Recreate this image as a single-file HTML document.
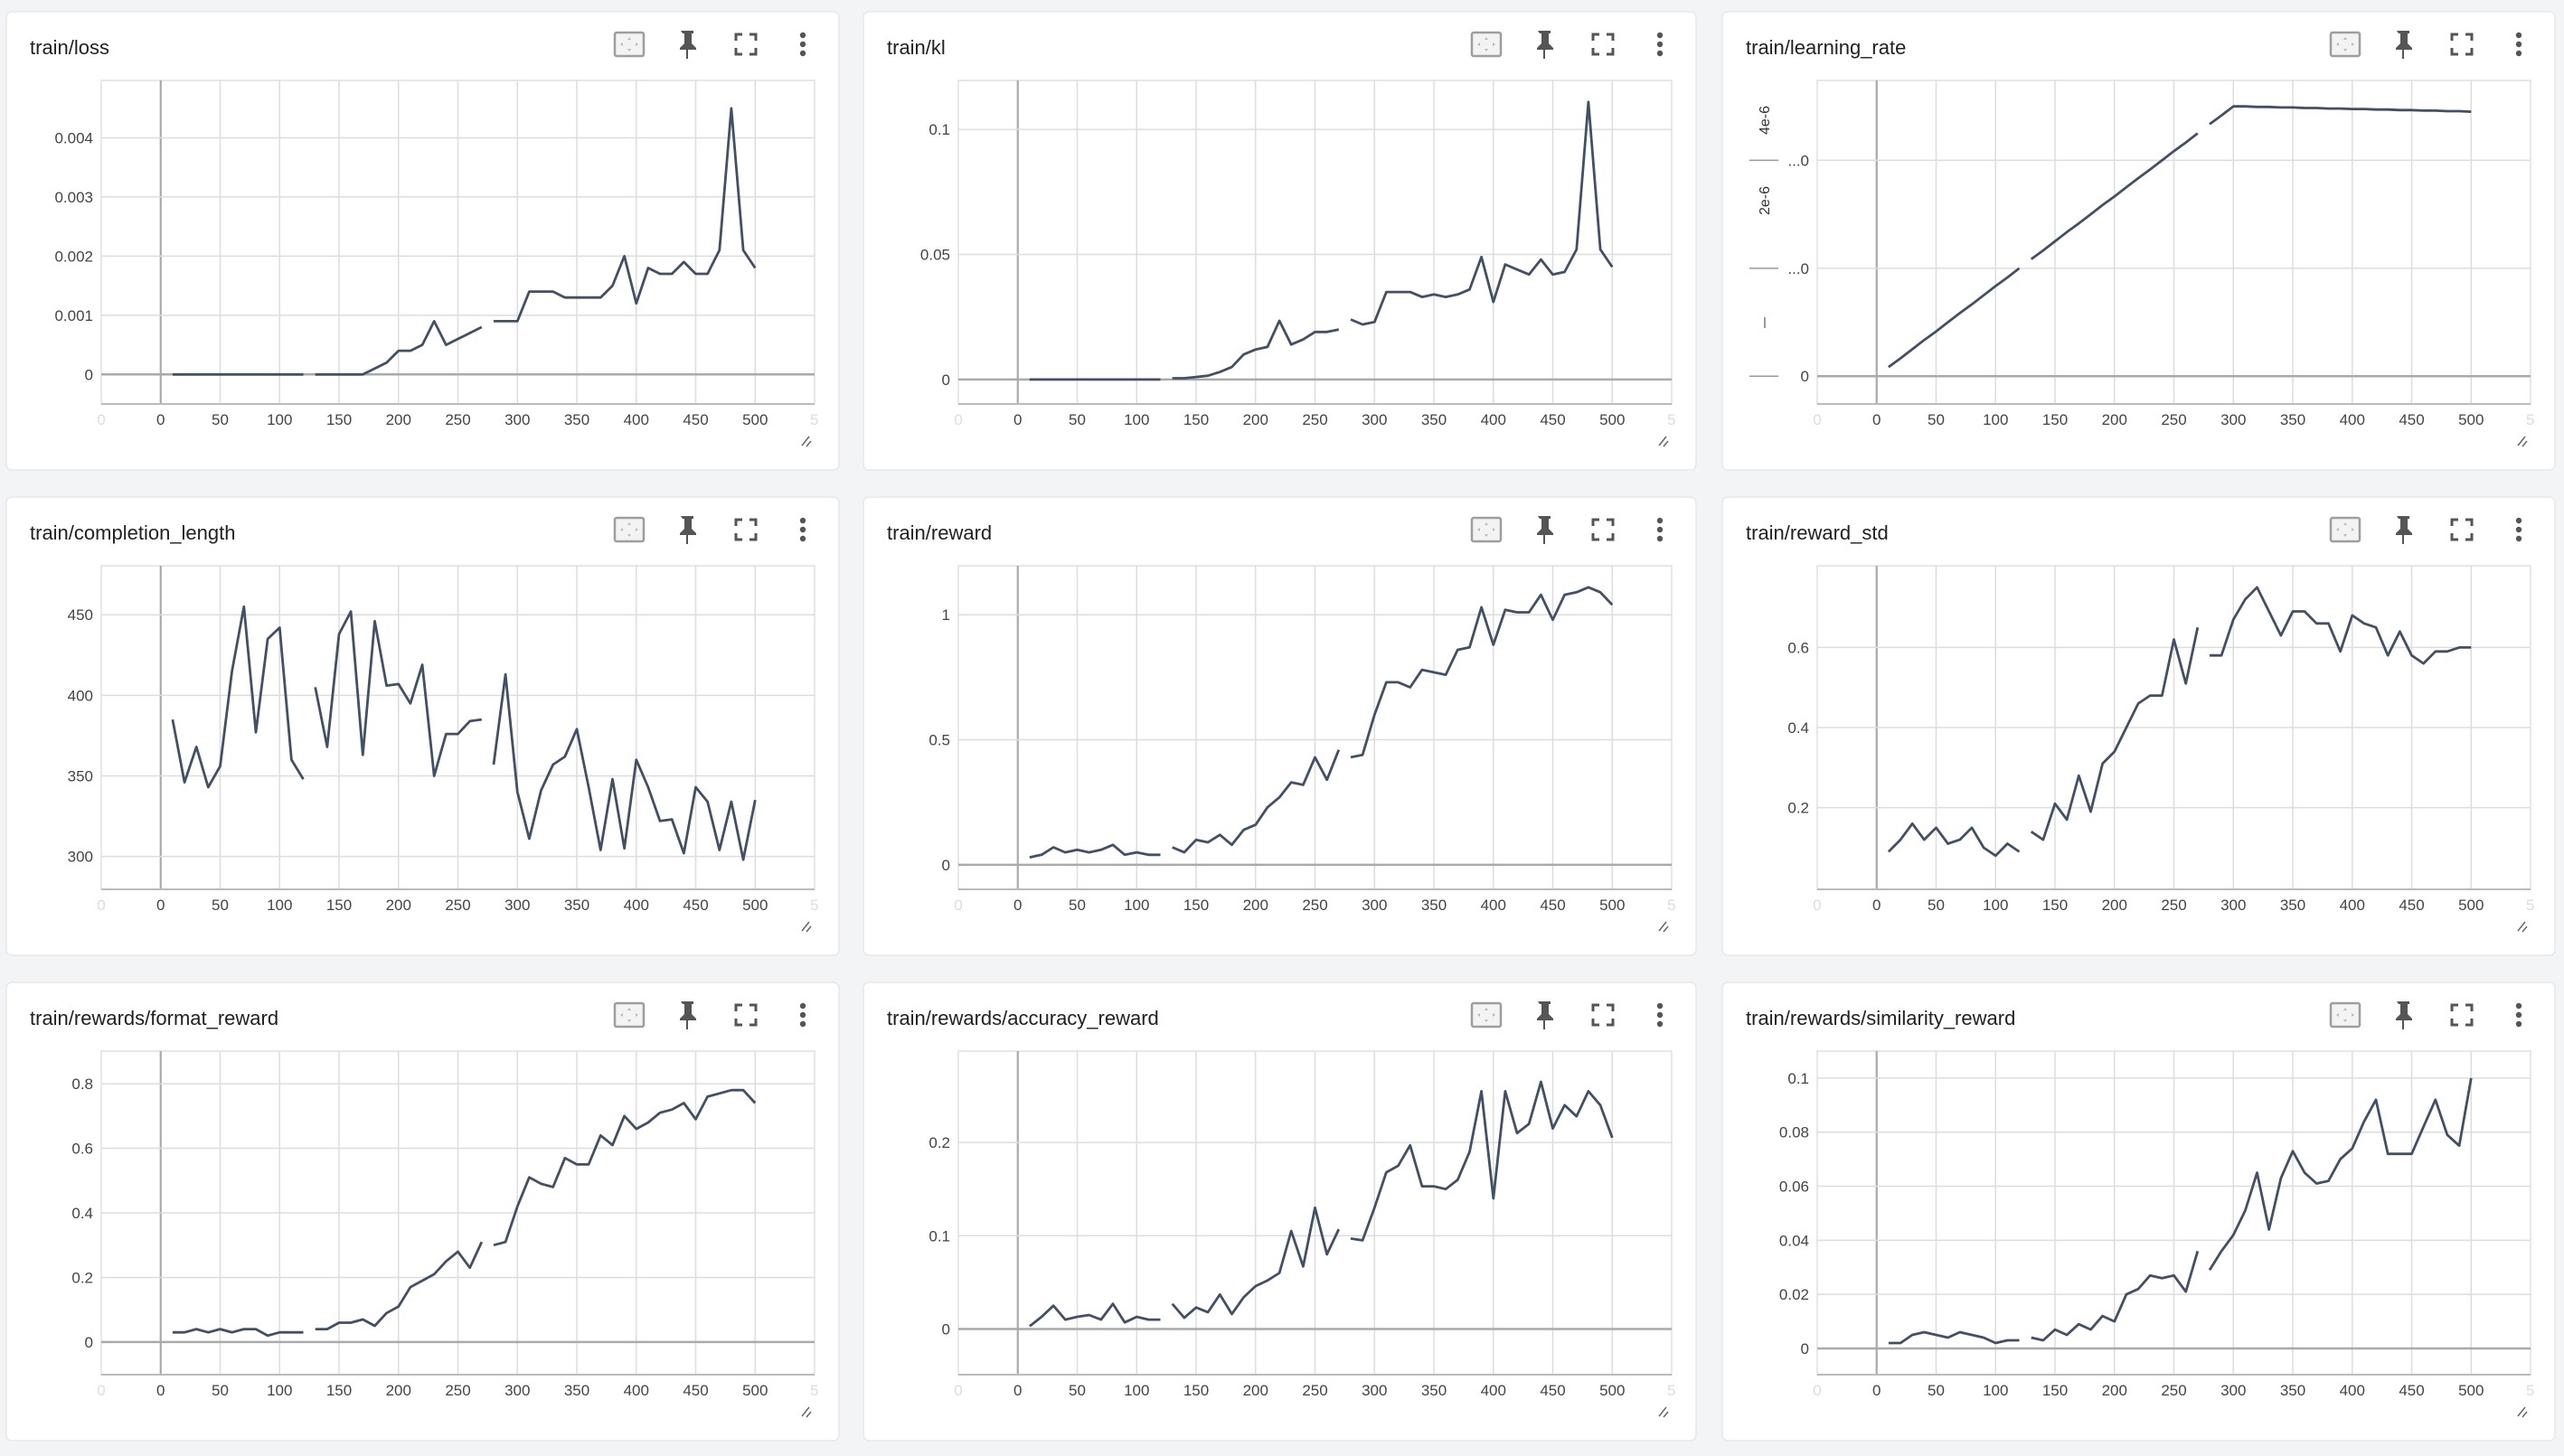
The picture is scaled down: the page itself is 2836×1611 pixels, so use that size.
<!DOCTYPE html>
<html><head><meta charset="utf-8">
<style>
html,body{margin:0;padding:0;background:#f3f4f6;}
body{width:2836px;height:1606px;overflow:hidden;font-family:"Liberation Sans",sans-serif;}
svg text{font-family:"Liberation Sans",sans-serif;}
</style></head>
<body>
<svg id="root" width="2836" height="1606" viewBox="0 0 2836 1606"></svg>
<script>
const steps=[10,20,30,40,50,60,70,80,90,100,110,120,130,140,150,160,170,180,190,200,210,220,230,240,250,260,270,280,290,300,310,320,330,340,350,360,370,380,390,400,410,420,430,440,450,460,470,480,490,500];
const breakAfter=[120,270];
const xTicks=[0,50,100,150,200,250,300,350,400,450,500];
const lossVals=[0,0,0,0,0,0,0,0,0,0,0,0,0,0,0,0,0,0.0001,0.0002,0.0004,0.0004,0.0005,0.0009,0.0005,0.0006,0.0007,0.0008,0.0009,0.0009,0.0009,0.0014,0.0014,0.0014,0.0013,0.0013,0.0013,0.0013,0.0015,0.0020,0.0012,0.0018,0.0017,0.0017,0.0019,0.0017,0.0017,0.0021,0.0045,0.0021,0.0018];
const lossTicks=[0,0.001,0.002,0.003,0.004];
const klVals=[0,0,0,0,0,0,0,0,0,0,0,0,0.0005,0.0005,0.001,0.0015,0.003,0.005,0.01,0.012,0.013,0.0235,0.014,0.016,0.019,0.019,0.02,0.024,0.022,0.023,0.035,0.035,0.035,0.033,0.034,0.033,0.034,0.036,0.049,0.031,0.046,0.044,0.042,0.048,0.042,0.043,0.052,0.111,0.052,0.045];
const klTicks=[0,0.05,0.1];
const lrVals=[1.7e-7,3.3e-7,5e-7,6.7e-7,8.3e-7,1e-6,1.17e-6,1.33e-6,1.5e-6,1.67e-6,1.83e-6,2e-6,2.17e-6,2.33e-6,2.5e-6,2.67e-6,2.83e-6,3e-6,3.17e-6,3.33e-6,3.5e-6,3.67e-6,3.83e-6,4e-6,4.17e-6,4.33e-6,4.5e-6,4.67e-6,4.83e-6,5e-6,5e-6,4.99e-6,4.99e-6,4.98e-6,4.98e-6,4.97e-6,4.97e-6,4.96e-6,4.96e-6,4.95e-6,4.95e-6,4.94e-6,4.94e-6,4.93e-6,4.93e-6,4.92e-6,4.92e-6,4.91e-6,4.91e-6,4.9e-6];
const lrTicks=[0,2e-6,4e-6];
const lenVals=[385,346,368,343,356,415,455,377,435,442,360,348,405,368,438,452,363,446,406,407,395,419,350,376,376,384,385,357,413,340,311,341,357,362,379,343,304,348,305,360,343,322,323,302,343,334,304,334,298,335];
const lenTicks=[300,350,400,450];
const rewVals=[0.03,0.04,0.07,0.05,0.06,0.05,0.06,0.08,0.04,0.05,0.04,0.04,0.07,0.05,0.10,0.09,0.12,0.08,0.14,0.16,0.23,0.27,0.33,0.32,0.43,0.34,0.46,0.43,0.44,0.60,0.73,0.73,0.71,0.78,0.77,0.76,0.86,0.87,1.03,0.88,1.02,1.01,1.01,1.08,0.98,1.08,1.09,1.11,1.09,1.04];
const rewTicks=[0,0.5,1];
const stdVals=[0.09,0.12,0.16,0.12,0.15,0.11,0.12,0.15,0.10,0.08,0.11,0.09,0.14,0.12,0.21,0.17,0.28,0.19,0.31,0.34,0.40,0.46,0.48,0.48,0.62,0.51,0.65,0.58,0.58,0.67,0.72,0.75,0.69,0.63,0.69,0.69,0.66,0.66,0.59,0.68,0.66,0.65,0.58,0.64,0.58,0.56,0.59,0.59,0.60,0.60];
const stdTicks=[0.2,0.4,0.6];
const fmtVals=[0.03,0.03,0.04,0.03,0.04,0.03,0.04,0.04,0.02,0.03,0.03,0.03,0.04,0.04,0.06,0.06,0.07,0.05,0.09,0.11,0.17,0.19,0.21,0.25,0.28,0.23,0.31,0.30,0.31,0.42,0.51,0.49,0.48,0.57,0.55,0.55,0.64,0.61,0.70,0.66,0.68,0.71,0.72,0.74,0.69,0.76,0.77,0.78,0.78,0.74];
const fmtTicks=[0,0.2,0.4,0.6,0.8];
const accVals=[0.003,0.013,0.025,0.01,0.013,0.015,0.01,0.027,0.007,0.013,0.01,0.01,0.027,0.012,0.023,0.018,0.037,0.016,0.034,0.046,0.052,0.06,0.105,0.067,0.13,0.08,0.107,0.097,0.095,0.13,0.168,0.175,0.197,0.153,0.153,0.15,0.16,0.19,0.255,0.14,0.255,0.21,0.22,0.265,0.215,0.24,0.228,0.255,0.24,0.205];
const accTicks=[0,0.1,0.2];
const simVals=[0.002,0.002,0.005,0.006,0.005,0.004,0.006,0.005,0.004,0.002,0.003,0.003,0.004,0.003,0.007,0.005,0.009,0.007,0.012,0.01,0.02,0.022,0.027,0.026,0.027,0.021,0.036,0.029,0.036,0.042,0.051,0.065,0.044,0.063,0.073,0.065,0.061,0.062,0.07,0.074,0.084,0.092,0.072,0.072,0.072,0.082,0.092,0.079,0.075,0.1];
const simTicks=[0,0.02,0.04,0.06,0.08,0.1];

const NS='http://www.w3.org/2000/svg';
const root=document.getElementById('root');
function mk(tag,attrs,parent){const e=document.createElementNS(NS,tag);for(const k in attrs)e.setAttribute(k,attrs[k]);(parent||root).appendChild(e);return e;}

const colX=[7,955,1905], rowY=[13,550,1087];
const charts=[
 {title:'train/loss',vals:lossVals,ticks:lossTicks,dom:[-0.0005,0.00497],fmt:v=>String(v)},
 {title:'train/kl',vals:klVals,ticks:klTicks,dom:[-0.0098,0.1196],fmt:v=>String(v)},
 {title:'train/learning_rate',vals:lrVals,ticks:lrTicks,dom:[-0.515e-6,5.48e-6],fmt:v=>v===0?'0':'...0',lr:true},
 {title:'train/completion_length',vals:lenVals,ticks:lenTicks,dom:[279.6,480.4],fmt:v=>String(v)},
 {title:'train/reward',vals:rewVals,ticks:rewTicks,dom:[-0.098,1.196],fmt:v=>String(v)},
 {title:'train/reward_std',vals:stdVals,ticks:stdTicks,dom:[-0.004,0.804],fmt:v=>String(v)},
 {title:'train/rewards/format_reward',vals:fmtVals,ticks:fmtTicks,dom:[-0.101,0.901],fmt:v=>String(v)},
 {title:'train/rewards/accuracy_reward',vals:accVals,ticks:accTicks,dom:[-0.049,0.298],fmt:v=>String(v)},
 {title:'train/rewards/similarity_reward',vals:simVals,ticks:simTicks,dom:[-0.0097,0.110],fmt:v=>String(v)}
];

charts.forEach((c,i)=>{
 const cx=colX[i%3], cy=rowY[Math.floor(i/3)];
 const g=mk('g',{transform:`translate(${cx},${cy})`});
 
 
 const card=mk('rect',{x:0,y:0,width:921,height:507,rx:6,fill:'#fff',stroke:'#e6e8eb','stroke-width':1.5},g);
 
 
 const t=mk('text',{x:26,y:47,'font-size':22,fill:'#212121'},g);t.textContent=c.title;
 
 
 const ic1=mk('g',{transform:'translate(689,36)'},g);
 
 
 mk('rect',{x:-16,y:-13,width:32,height:26,rx:2,fill:'#f3f3f3',stroke:'#9e9e9e','stroke-width':2.5},ic1);
 mk('path',{d:'M0,-8 l-2,3 h4z M0,8 l-2,-3 h4z M-10,0 l3,-2 v4z M10,0 l-3,-2 v4z',fill:'#bbb'},ic1);
 const ic2=mk('g',{transform:'translate(753,36)'},g);
 
 
 mk('path',{d:'M-7,-15 h14 v3 h-2 v11 l5,5 v2 h-18 v-2 l5,-5 v-11 h-2z',fill:'#555'},ic2);
 mk('rect',{x:-1,y:5,width:2,height:11,fill:'#555'},ic2);
 const ic3=mk('g',{transform:'translate(818,36)'},g);
 
 
 mk('path',{d:'M-11,-4 v-7 h7 M4,-11 h7 v7 M11,4 v7 h-7 M-4,11 h-7 v-7',fill:'none',stroke:'#555','stroke-width':3},ic3);
 const ic4=mk('g',{transform:'translate(881,36)'},g);
 
 
 [-10,0,10].forEach(d=>mk('circle',{cx:0,cy:d,r:3.2,fill:'#555'},ic4));
 const L=105,R=894,T=76,B=434;
 const xs=v=>L+(v+50)/600*(R-L);
 const ys=v=>B-(v-c.dom[0])/(c.dom[1]-c.dom[0])*(B-T);
 const plot=mk('g',{},g);
 
 
 mk('rect',{x:L,y:T,width:R-L,height:B-T,fill:'#fff',stroke:'#e0e0e0','stroke-width':1.5},plot);
 xTicks.forEach(v=>{
  const gl=mk('line',{x1:xs(v),x2:xs(v),y1:T,y2:B,stroke:v===0?'#aaaaaa':'#dddddd','stroke-width':v===0?2.2:1.5},plot);
  
  
  const tl=mk('text',{x:xs(v),y:457,'font-size':17,fill:'#444','text-anchor':'middle'},g);
  tl.textContent=String(v);
  
  
 });
 const f1=mk('text',{x:L,y:457,'font-size':17,fill:'#ddd','text-anchor':'middle'},g);f1.textContent='0';
 
 
 const f2=mk('text',{x:R-5,y:457,'font-size':17,fill:'#ddd','text-anchor':'start'},g);f2.textContent='5';
 
 
 c.ticks.forEach(v=>{
  const y=ys(v);
  const gl=mk('line',{x1:L,x2:R,y1:y,y2:y,stroke:v===0?'#aaaaaa':'#dddddd','stroke-width':v===0?2.5:1.5},plot);
  
  
  const tl=mk('text',{x:L-9,y:y+6,'font-size':17,fill:'#444','text-anchor':'end'},g);
  tl.textContent=c.fmt(v);
  
  
  if(c.lr){const d=mk('line',{x1:30,x2:62,y1:y,y2:y,stroke:'#999','stroke-width':1.5},g);
   
   }
 });
 if(c.lr){
  [['4e-6',65],['2e-6',154]].forEach(([s,yy])=>{
   const tl=mk('text',{x:0,y:0,'font-size':16,fill:'#333','text-anchor':'middle',transform:`translate(52,${yy+55}) rotate(-90)`},g);
   tl.textContent=s;
   
   
  });
  const d=mk('line',{x1:47,x2:47,y1:338,y2:350,stroke:'#777','stroke-width':1.5},g);
  
  
 }
 mk('line',{x1:L,x2:R,y1:B,y2:B,stroke:'#bbb','stroke-width':2},plot);
 let segs=[[]];
 steps.forEach((s,k)=>{segs[segs.length-1].push([xs(s),ys(c.vals[k])]);if(breakAfter.includes(s))segs.push([]);});
 segs.forEach(sg=>{
  const p=mk('polyline',{points:sg.map(q=>q[0].toFixed(1)+','+q[1].toFixed(1)).join(' '),fill:'none',stroke:'#425066','stroke-width':2.8,'stroke-linejoin':'round'},plot);
  
  
 });
 const rh=mk('path',{d:'M880,480 l8,-10 M885,481 l5,-6',stroke:'#666','stroke-width':1.5},g);
 
 
});
</script>
</body></html>
